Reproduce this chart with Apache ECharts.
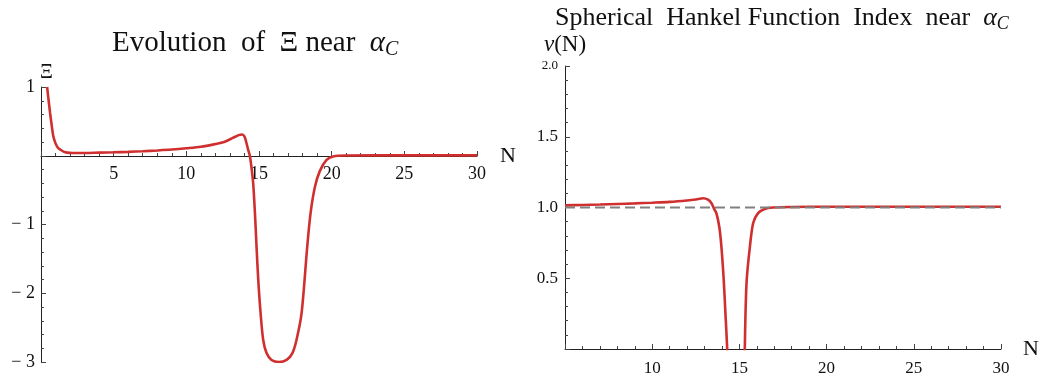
<!DOCTYPE html>
<html>
<head>
<meta charset="utf-8">
<script src="https://cdn.jsdelivr.net/npm/echarts@6/dist/echarts.min.js"></script>
<style>
  html, body { margin: 0; padding: 0; background: #fff; }
  #chart { width: 1052px; height: 379px; }
</style>
</head>
<body>
<div id="chart"></div>
<script>
// left panel: Xi(N)
const xiN = [0.42, 0.5, 0.62, 0.75, 0.85, 1.0, 1.15, 1.32, 1.55, 1.8, 2.2, 3, 4, 5, 6, 7, 8, 9, 10, 11, 12, 12.6, 13.2, 13.6, 13.85, 14.0, 14.12, 14.25, 14.37, 14.5, 14.6, 14.72, 14.83, 14.95, 15.11, 15.29, 15.52, 15.86, 16.37, 16.9, 17.3, 17.58, 17.93, 18.32, 18.55, 18.85, 19.19, 19.65, 20.1, 21, 25, 30];
const xiVal = [1.0, 0.85, 0.63, 0.42, 0.28, 0.18, 0.12, 0.09, 0.06, 0.045, 0.04, 0.04, 0.045, 0.05, 0.057, 0.066, 0.077, 0.09, 0.108, 0.13, 0.17, 0.2, 0.26, 0.3, 0.31, 0.28, 0.2, 0.09, 0.0, -0.2, -0.4, -0.83, -1.32, -1.81, -2.29, -2.68, -2.87, -2.97, -3.0, -2.97, -2.87, -2.68, -2.29, -1.32, -0.83, -0.45, -0.22, -0.06, -0.01, 0.003, 0.005, 0.005];

// right panel: nu(N), broken where it leaves the plot range
const nuN = [5, 6, 7, 8, 9, 10, 11, 12, 12.5, 12.92, 13.2, 13.4, 13.55, 13.68, 13.85, 13.97, 14.1, 14.2, 14.3, 14.34, null, 15.28, 15.31, 15.35, 15.42, 15.6, 15.79, 16.07, 16.45, 16.93, 18, 20, 25, 30];
const nuVal = [1.015, 1.018, 1.021, 1.025, 1.029, 1.034, 1.04, 1.05, 1.057, 1.065, 1.055, 1.03, 0.99, 0.96, 0.86, 0.72, 0.49, 0.25, 0.0, -0.2, null, -0.2, 0.0, 0.25, 0.49, 0.72, 0.89, 0.96, 0.99, 1.0, 1.004, 1.005, 1.005, 1.005];
const refN = [5, 30];
const refVal = [1, 1];

const xiTicksX = [5, 10, 15, 20, 25, 30];
const nuTicksY = [0.5, 1.0, 1.5, 2.0];

const RED = '#cf2f2f';
const FONT = 'Liberation Serif';

function pairs(xs, ys) {
  return xs.map((x, i) => (x === null ? ['-', '-'] : [x, ys[i]]));
}

const chart = echarts.init(document.getElementById('chart'));

const axisBase = {
  axisLine: { lineStyle: { color: '#222', width: 1 } },
  axisTick: { inside: true, length: 5, lineStyle: { color: '#444' } },
  minorTick: { show: true, splitNumber: 5, length: 3, lineStyle: { color: '#444' } },
  splitLine: { show: false },
  nameTextStyle: { fontFamily: FONT, color: '#111', fontSize: 22 }
};

const txt = (size, extra) => Object.assign({ fontFamily: FONT, fontSize: size, fontWeight: 'normal', color: '#111' }, extra || {});

const option = {
  animation: false,
  title: [
    {
      text: '{a|Evolution  of  Ξ near  }{i|α}{s|C}',
      left: 107, top: 21,
      textStyle: {
        fontWeight: 'normal',
        rich: {
          a: txt(29),
          i: txt(29, { fontStyle: 'italic' }),
          s: txt(20, { fontStyle: 'italic', padding: [14, 0, 0, 0] })
        }
      }
    },
    {
      text: '{a|Spherical  Hankel Function  Index  near  }{i|α}{s|C}',
      left: 550, top: -2,
      textStyle: {
        fontWeight: 'normal',
        rich: {
          a: txt(26),
          i: txt(26, { fontStyle: 'italic' }),
          s: txt(18, { fontStyle: 'italic', padding: [12, 0, 0, 0] })
        }
      }
    },
    {
      // name of the left vertical axis
      text: 'Ξ',
      left: 35, top: 58,
      textStyle: txt(20)
    }
  ],
  grid: [
    { left: 41, top: 87, width: 436, height: 275 },
    { left: 565, top: 66, width: 436, height: 283 },
    // upper part of the left panel, only to carry the N axis at zero
    { left: 41, top: 87, width: 436, height: 69 }
  ],
  xAxis: [
    { type: 'value', gridIndex: 0, min: 0, max: 30, show: false },
    Object.assign({}, axisBase, {
      type: 'value', gridIndex: 1, min: 5, max: 30, interval: 5,
      name: 'N', nameLocation: 'end', nameGap: 22,
      axisLabel: {
        fontFamily: FONT, fontSize: 17, color: '#111', margin: 11,
        formatter: v => (v === 5 ? '' : String(v))
      }
    }),
    Object.assign({}, axisBase, {
      type: 'value', gridIndex: 2, min: 0, max: 30, interval: 5,
      name: 'N', nameLocation: 'end', nameGap: 23,
      axisLabel: {
        fontFamily: FONT, fontSize: 18, color: '#111', margin: 9,
        formatter: v => (xiTicksX.includes(v) ? String(v) : '')
      }
    })
  ],
  yAxis: [
    Object.assign({}, axisBase, {
      type: 'value', gridIndex: 0, min: -3, max: 1, interval: 1,
      axisLine: { onZero: false, lineStyle: { color: '#222', width: 1 } },
      axisLabel: {
        fontFamily: FONT, fontSize: 18, color: '#111', margin: 6,
        formatter: v => (v === 0 ? '' : (v < 0 ? '\u2212 ' + Math.abs(v) : String(v)))
      }
    }),
    Object.assign({}, axisBase, {
      type: 'value', gridIndex: 1, min: 0, max: 2, interval: 0.5,
      name: '{i|ν}{a|(N)}', nameLocation: 'end', nameGap: 10, nameRotate: 0,
      nameTextStyle: {
        fontFamily: FONT, color: '#111', fontSize: 23,
        rich: { i: txt(23, { fontStyle: 'italic' }), a: txt(23) }
      },
      axisLine: { onZero: false, lineStyle: { color: '#222', width: 1 } },
      axisLabel: {
        fontFamily: FONT, fontSize: 17, color: '#111', margin: 7,
        formatter: v => {
          if (!nuTicksY.includes(v)) return '';
          return v === 2 ? '{t|2.0}' : v.toFixed(1);
        },
        rich: { t: { fontFamily: FONT, fontSize: 13, color: '#111' } }
      }
    }),
    { type: 'value', gridIndex: 2, min: 0, max: 1, show: false }
  ],
  series: [
    {
      name: 'Xi', type: 'line', xAxisIndex: 0, yAxisIndex: 0,
      data: pairs(xiN, xiVal),
      smooth: 0.3, showSymbol: false, clip: true,
      lineStyle: { color: RED, width: 2.6 }
    },
    {
      name: 'nu', type: 'line', xAxisIndex: 1, yAxisIndex: 1,
      data: pairs(nuN, nuVal),
      smooth: 0.3, showSymbol: false, clip: true, connectNulls: false,
      lineStyle: { color: RED, width: 2.6 }
    },
    {
      name: 'ref', type: 'line', xAxisIndex: 1, yAxisIndex: 1,
      data: pairs(refN, refVal),
      showSymbol: false, z: 3,
      lineStyle: { color: '#808080', width: 2.2, type: [10, 5] }
    }
  ]
};

chart.setOption(option);
</script>
</body>
</html>
